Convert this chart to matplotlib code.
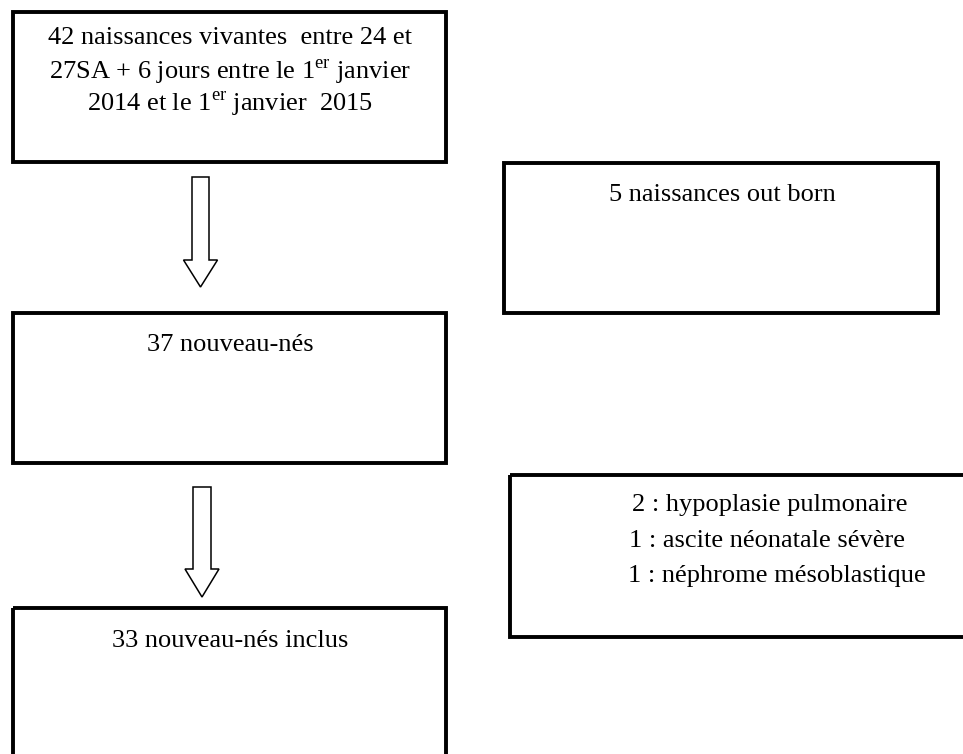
import matplotlib.pyplot as plt
from matplotlib.patches import Rectangle, Polygon

plt.rcParams['font.family'] = ['Liberation Serif', 'DejaVu Serif']
plt.rcParams['mathtext.fontset'] = 'custom'
plt.rcParams['mathtext.rm'] = 'Liberation Serif'

# textes des cases
top_lines = ['42 naissances vivantes  entre 24 et',
             '27SA + 6 jours entre le 1$^{\\mathrm{er}}$ janvier',
             '2014 et le 1$^{\\mathrm{er}}$ janvier  2015']
mid_label = '37 nouveau-nés'
bottom_label = '33 nouveau-nés inclus'
out_label = '5 naissances out born'
excl_lines = ['2 : hypoplasie pulmonaire',
              '1 : ascite néonatale sévère',
              '1 : néphrome mésoblastique']

W, H = 963, 754
fig = plt.figure(figsize=(W / 100, H / 100), dpi=100)
ax = fig.add_axes([0, 0, 1, 1])
ax.set_xlim(0, W)
ax.set_ylim(H, 0)
ax.axis('off')

lw = 2.8
fs = 19


def box(x0, y0, x1, y1):
    ax.add_patch(Rectangle((x0, y0), x1 - x0, y1 - y0, fill=False,
                           edgecolor='black', linewidth=lw))


def arrow(cx, top, base, tip, shaft_w, head_w):
    pts = [(cx - shaft_w / 2, top), (cx + shaft_w / 2, top),
           (cx + shaft_w / 2, base), (cx + head_w / 2, base),
           (cx, tip), (cx - head_w / 2, base),
           (cx - shaft_w / 2, base)]
    ax.add_patch(Polygon(pts, closed=True, fill=False,
                         edgecolor='black', linewidth=1.1))


# cases de gauche
box(13, 12, 446, 162)
box(13, 313, 446, 463)
box(13, 608, 446, 770)
# cases de droite
box(504, 163, 938, 313)
box(510, 475, 975, 637)

for txt, yb in zip(top_lines, [44, 79, 111]):
    ax.text(230, yb, txt, ha='center', va='baseline', fontsize=fs)
ax.text(230, 351, mid_label, ha='center', va='baseline', fontsize=fs)
ax.text(230, 647, bottom_label, ha='center', va='baseline', fontsize=fs)
ax.text(722, 201, out_label, ha='center', va='baseline', fontsize=fs)
for txt, xc, yb in zip(excl_lines, [770, 767, 777], [511, 547, 582]):
    ax.text(xc, yb, txt, ha='center', va='baseline', fontsize=fs)

arrow(200.5, 177, 260, 287, 17, 34)
arrow(202, 487, 569, 597, 18, 34)

fig.savefig('out.png', dpi=100)
